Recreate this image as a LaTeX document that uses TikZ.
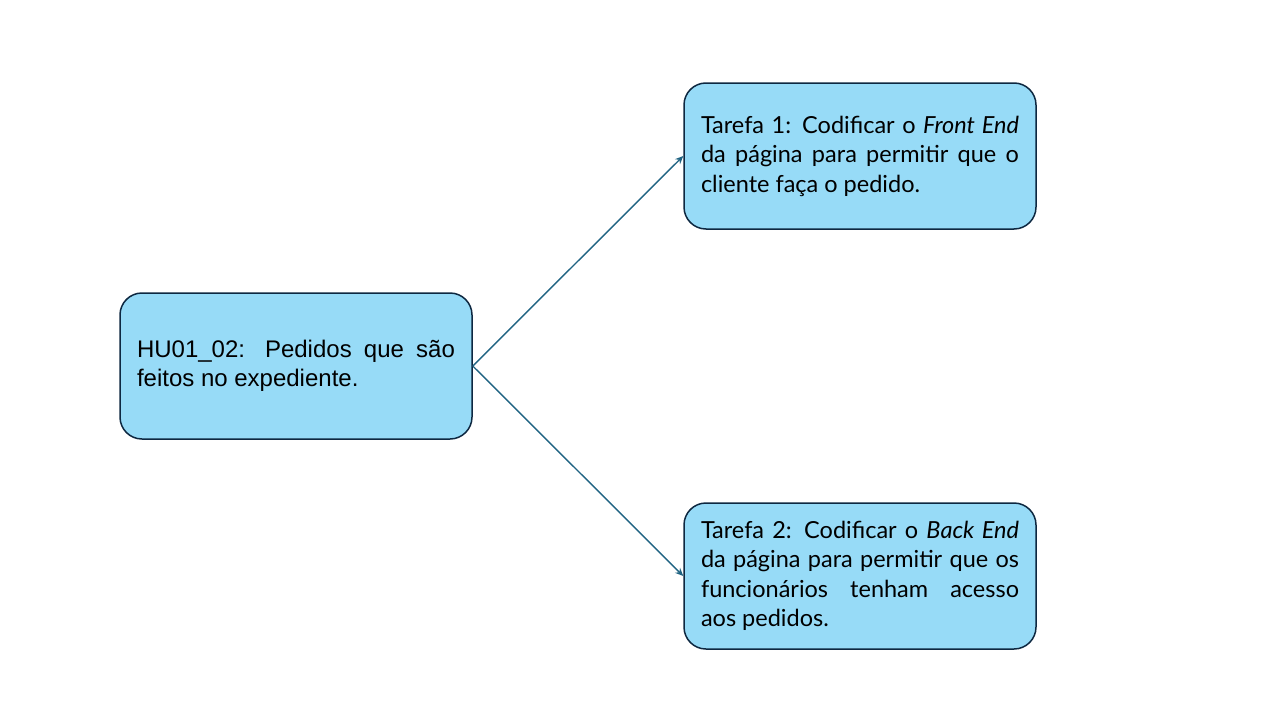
\documentclass[tikz,border=0pt]{standalone}
\usepackage{fontspec}
\setmainfont{Liberation Sans}
\newfontfamily\aptosfont{Lato}
\usetikzlibrary{arrows.meta}
\definecolor{boxfill}{HTML}{97DBF7}
\definecolor{boxline}{HTML}{0E2841}
\definecolor{arrowcol}{HTML}{1F6382}
\tikzset{
  taskbox/.style={draw=boxline, fill=boxfill, line width=1.5pt, rounded corners=22pt,
    minimum width=352pt, minimum height=146pt, inner sep=0pt, text width=318pt,
    align=justify, text=black},
  hufont/.style={font=\fontsize{24}{29}\selectfont},
  taskfont/.style={font=\aptosfont\fontsize{23.5}{29.5}\selectfont},
  linkarrow/.style={draw=arrowcol, line width=1.4pt, -{Stealth[length=8pt,width=7pt]}}
}
\begin{document}
\begin{tikzpicture}[x=1pt,y=1pt]
\useasboundingbox (0,0) rectangle (1280,-720);
\fill[white] (0,0) rectangle (1280,-720);
\node[taskbox, hufont] (hu) at (296,-366)
  {HU01\_02: Pedidos que são\linebreak feitos no expediente.\par};
\node[taskbox, taskfont] (t1) at (860,-156)
  {Tarefa 1: Codificar o \textit{Front End}\linebreak da página para permitir que o\linebreak cliente faça o pedido.\par};
\node[taskbox, taskfont] (t2) at (860,-576)
  {Tarefa 2: Codificar o \textit{Back End}\linebreak da página para permitir que os\linebreak funcionários tenham acesso\linebreak aos pedidos.\par};
\draw[linkarrow] (hu.east) -- (t1.west);
\draw[linkarrow] (hu.east) -- (t2.west);
\end{tikzpicture}
\end{document}
